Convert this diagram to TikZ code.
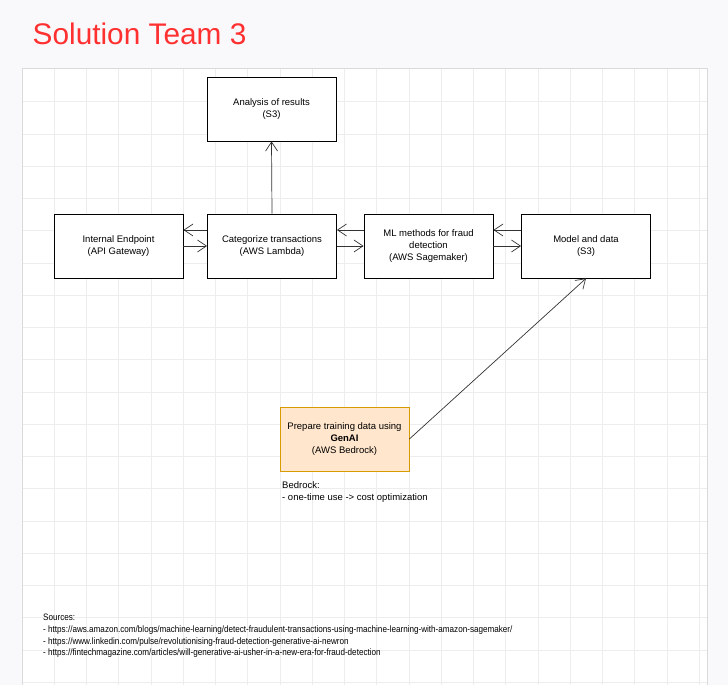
\documentclass[tikz,border=0pt]{standalone}
\usepackage{fontspec}
\setmainfont{Liberation Sans}
\newfontfamily\srcfont[FakeStretch=0.873]{Liberation Sans}
\usetikzlibrary{arrows.meta}
\definecolor{pagebg}{HTML}{F9F8FB}
\definecolor{gridgray}{HTML}{EDEDED}
\definecolor{canvasline}{HTML}{DADADA}
\definecolor{titlered}{HTML}{FF3030}
\definecolor{peach}{HTML}{FFE6CC}
\definecolor{peachline}{HTML}{D79B00}
\definecolor{linkgray}{HTML}{333333}
\begin{document}
\begin{tikzpicture}[x=1pt,y=-1pt,
	box/.style={draw=black,fill=white,line width=0.8pt,minimum width=129pt,minimum height=64pt,inner sep=0pt,align=center,font=\fontsize{9.5}{12}\selectfont},
	genbox/.style={box,draw=peachline,fill=peach},
	link/.style={draw=linkgray,line width=0.7pt,-{Straight Barb[length=9pt,width=12pt]}},
	note/.style={inner sep=0pt,anchor=north west,align=left,font=\fontsize{9.5}{11.8}\selectfont}]
	\fill[pagebg] (0,0) rectangle (728,685);
	\useasboundingbox (0,0) rectangle (728,685);
	\draw[canvasline,fill=white] (22,68.5) rectangle (707,695);
	\foreach \k in {1,...,21}
		\draw[gridgray,line width=0.6pt] (22+32.25*\k,69) -- (22+32.25*\k,685);
	\foreach \k in {1,...,19}
		\draw[gridgray,line width=0.6pt] (22.5,69.5+32.25*\k) -- (706.5,69.5+32.25*\k);
	\node[anchor=west,inner sep=0pt,text=titlered,font=\fontsize{29.8}{34}\selectfont] (title) at (32.5,34) {Solution Team 3};
	\node[box] (ana) at (271.5,109) {Analysis of results\\(S3)};
	\node[box] (ep) at (118.5,246) {Internal Endpoint\\(API Gateway)};
	\node[box] (cat) at (272,246) {Categorize transactions\\(AWS Lambda)};
	\node[box] (ml) at (428.5,246) {ML methods for fraud\\detection\\(AWS Sagemaker)};
	\node[box] (mod) at (586,246) {Model and data\\(S3)};
	\node[genbox] (prep) at (344.5,439) {Prepare training data using\\\textbf{GenAI}\\(AWS Bedrock)};
	\draw[link] (cat.north) -- (ana.south);
	\draw[link] ([yshift=16pt]cat.west) -- ([yshift=16pt]ep.east);
	\draw[link] (ep.east) -- (cat.west);
	\draw[link] ([yshift=16pt]ml.west) -- ([yshift=16pt]cat.east);
	\draw[link] (cat.east) -- (ml.west);
	\draw[link] ([yshift=16pt]mod.west) -- ([yshift=16pt]ml.east);
	\draw[link] (ml.east) -- (mod.west);
	\draw[link] (prep.east) -- (mod.south);
	\node[note] (bedrock) at (282,481.5) {Bedrock:\\- one-time use -> cost optimization};
	\node[note,font=\srcfont\fontsize{9.3}{11.7}\selectfont] (sources) at (43,614) {Sources:\\- https://aws.amazon.com/blogs/machine-learning/detect-fraudulent-transactions-using-machine-learning-with-amazon-sagemaker/\\- https://www.linkedin.com/pulse/revolutionising-fraud-detection-generative-ai-newron\\- https://fintechmagazine.com/articles/will-generative-ai-usher-in-a-new-era-for-fraud-detection};
\end{tikzpicture}
\end{document}
